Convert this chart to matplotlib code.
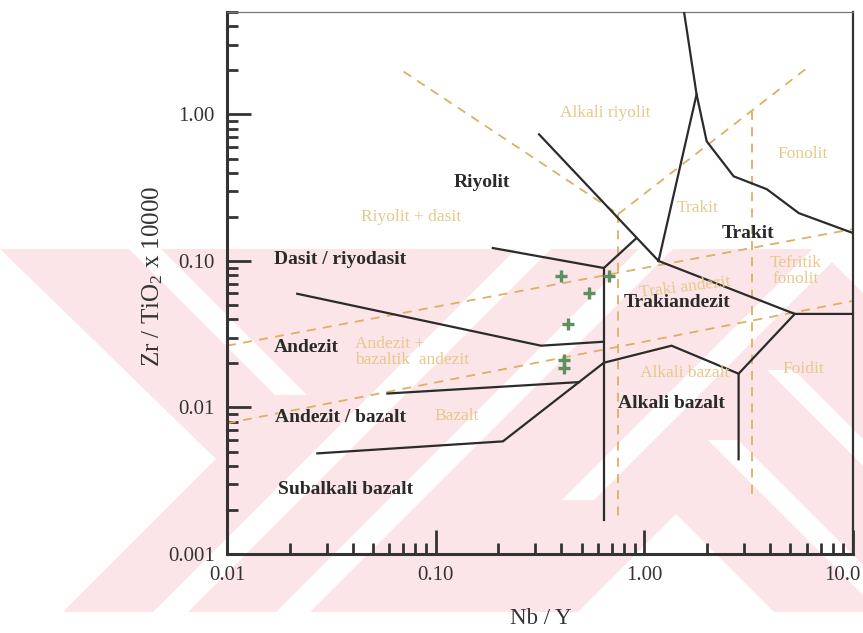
import matplotlib
matplotlib.use("Agg")
import matplotlib.pyplot as plt
from matplotlib.patches import Polygon, Rectangle
from matplotlib.ticker import LogLocator, NullFormatter
from matplotlib.transforms import ScaledTranslation

plt.rcParams['font.family'] = ['Liberation Serif', 'DejaVu Serif']
plt.rcParams['mathtext.fontset'] = 'custom'
plt.rcParams['mathtext.rm'] = 'Liberation Serif'
plt.rcParams['mathtext.it'] = 'Liberation Serif:italic'

# ---- sample data (Nb/Y vs Zr/TiO2*10000) ----
nb_y = [0.40, 0.68, 0.545, 0.43, 0.41, 0.41]
zr_tio2 = [0.079, 0.079, 0.060, 0.037, 0.021, 0.0187]

# ---- Winchester & Floyd (1977) field boundaries ----
alk_rhy_x = [1.55, 1.78, 1.99, 2.68, 3.86, 5.50, 10.0]
alk_rhy_y = [5.0, 1.37, 0.655, 0.378, 0.309, 0.212, 0.155]
trachyte_x = [1.78, 1.17]
trachyte_y = [1.37, 0.100]
rhyolite_x = [0.313, 1.17]
rhyolite_y = [0.731, 0.100]
trachyand_top_x = [0.188, 0.64, 0.916]
trachyand_top_y = [0.1225, 0.0895, 0.143]
phonolite_x = [1.17, 5.26, 10.0]
phonolite_y = [0.100, 0.0435, 0.0435]
tephri_x = [5.26, 2.83, 2.83]
tephri_y = [0.0435, 0.0170, 0.00443]
alk_bas_x = [2.83, 1.35, 0.64, 0.210, 0.0271]
alk_bas_y = [0.0170, 0.0264, 0.0202, 0.00587, 0.00486]
and_bas_x = [0.0587, 0.487]
and_bas_y = [0.01245, 0.0149]
dac_and_x = [0.0217, 0.320, 0.64]
dac_and_y = [0.0597, 0.0264, 0.0281]
alk_div_x = [0.64, 0.64]
alk_div_y = [0.0895, 0.0017]

# ---- Pearce (1996) revised boundaries (dashed) ----
p_rhy_x = [0.0702, 0.75]
p_rhy_y = [1.96, 0.209]
p_alkrhy_x = [0.75, 6.14]
p_alkrhy_y = [0.209, 2.12]
p_v1_x = [0.75, 0.75]
p_v1_y = [0.209, 0.00176]
p_v2_x = [3.27, 3.27]
p_v2_y = [1.06, 0.0024]
p_upper_x = [0.01, 10.0]
p_upper_y = [0.0264, 0.165]
p_lower_x = [0.01, 10.0]
p_lower_y = [0.0078, 0.0534]

# ---- field names ----
black_names = ["Riyolit", "Dasit / riyodasit", "Andezit", "Andezit / bazalt",
               "Subalkali bazalt", "Alkali bazalt", "Trakiandezit", "Trakit"]
black_x = [0.166, 0.0349, 0.0240, 0.0349, 0.0369, 1.35, 1.43, 3.13]
black_y = [0.344, 0.1016, 0.0256, 0.00855, 0.00277, 0.01064, 0.0518, 0.153]

tan_names = ["Alkali riyolit", "Fonolit", "Trakit", "Riyolit + dasit",
             "Tefritik\nfonolit", "Alkali bazalt", "Foidit", "Bazalt"]
tan_x = [0.650, 5.75, 1.80, 0.0759, 5.32, 1.556, 5.75, 0.126]
tan_y = [1.02, 0.535, 0.230, 0.199, 0.0855, 0.0173, 0.0182, 0.00869]

x_ticks = [0.01, 0.1, 1.0, 10.0]
x_tick_labels = ["0.01", "0.10", "1.00", "10.0"]
y_ticks = [0.001, 0.01, 0.1, 1.0]
y_tick_labels = ["0.001", "0.01", "0.10", "1.00"]

W, H = 863, 633
fig = plt.figure(figsize=(W / 100, H / 100), dpi=100)

# ---- pale background band with diagonal light stripes ----
PINK = '#fbe5e8'


def px(pts):
    return [(x / W, 1 - y / H) for x, y in pts]


def slash(c1, c2, ya, yb):
    return [(c1 - ya, ya), (c2 - ya, ya), (c2 - yb, yb), (c1 - yb, yb)]


def backslash(d1, d2, ya, yb):
    return [(d1 + ya, ya), (d2 + ya, ya), (d2 + yb, yb), (d1 + yb, yb)]


band_top, band_bot = 249, 612
fig.add_artist(Rectangle((0, 1 - band_bot / H), 1, (band_bot - band_top) / H,
                         transform=fig.transFigure, color=PINK, lw=0,
                         zorder=-3))
white_shapes = [
    [(0, 249), (216, 459), (63, 612), (0, 612)],
    backslash(-120, -88, 249, 395),
    slash(765, 800, 249, 612),
    slash(888, 922, 249, 612),
    slash(1062, 1094, 249, 500),
    [(676, 514), (578, 612), (774, 612)],
    backslash(268, 298, 440, 612),
    backslash(397, 424, 370, 470),
    [(819, 249), (863, 249), (863, 293)],
]
for shp in white_shapes:
    fig.add_artist(Polygon(px(shp), closed=True, transform=fig.transFigure,
                           color='white', lw=0, zorder=-2))

ax = fig.add_axes([227 / W, 1 - 554 / H, (853 - 227) / W, (554 - 12) / H])
ax.set_zorder(1)
ax.patch.set_alpha(0)
ax.set_xscale('log')
ax.set_yscale('log')
ax.set_xlim(0.01, 10)
ax.set_ylim(0.001, 5)

LINE = '#2b2b2b'
DASH = '#ddb062'
TAN = '#e6c88a'

for xs, ys in [(alk_rhy_x, alk_rhy_y), (trachyte_x, trachyte_y),
               (rhyolite_x, rhyolite_y), (trachyand_top_x, trachyand_top_y),
               (phonolite_x, phonolite_y), (tephri_x, tephri_y),
               (alk_bas_x, alk_bas_y), (and_bas_x, and_bas_y),
               (dac_and_x, dac_and_y), (alk_div_x, alk_div_y)]:
    ax.plot(xs, ys, color=LINE, lw=1.6, solid_joinstyle='miter', zorder=3)

for xs, ys in [(p_rhy_x, p_rhy_y), (p_alkrhy_x, p_alkrhy_y), (p_v1_x, p_v1_y),
               (p_v2_x, p_v2_y), (p_upper_x, p_upper_y), (p_lower_x, p_lower_y)]:
    ax.plot(xs, ys, color=DASH, lw=1.3, ls=(0, (5, 4)), zorder=2)

ax.plot(nb_y, zr_tio2, ls='none', marker='+', ms=9, mew=2.4,
        color='#5e8f5e', zorder=4)

for name, x, y in zip(black_names, black_x, black_y):
    ax.text(x, y, name, ha='center', va='center', fontsize=14,
            fontweight='bold', color='#2a2a2a', zorder=5)
for name, x, y in zip(tan_names, tan_x, tan_y):
    ax.text(x, y, name, ha='center', va='center', fontsize=12.5,
            color=TAN, linespacing=1.0, zorder=5)
ax.text(1.57, 0.0655, "Traki andezit", ha='center', va='center', fontsize=12.5,
        color=TAN, rotation=7, zorder=5)
ax.text(0.0412, 0.0240, "Andezit +\nbazaltik  andezit", ha='left', va='center',
        fontsize=12.5, color=TAN, linespacing=1.0, zorder=5)

# ---- axes frame and ticks ----
for side in ['left', 'bottom']:
    ax.spines[side].set_linewidth(2.2)
    ax.spines[side].set_color('#333333')
ax.spines['right'].set_linewidth(1.6)
ax.spines['right'].set_color('#333333')
ax.spines['top'].set_linewidth(0.9)
ax.spines['top'].set_color('#777777')

ax.set_xticks(x_ticks, labels=x_tick_labels)
ax.set_yticks(y_ticks, labels=y_tick_labels)
ax.xaxis.set_minor_locator(LogLocator(base=10, subs=range(2, 10), numticks=20))
ax.yaxis.set_minor_locator(LogLocator(base=10, subs=range(2, 10), numticks=20))
ax.xaxis.set_minor_formatter(NullFormatter())
ax.yaxis.set_minor_formatter(NullFormatter())
ax.tick_params(which='major', direction='in', length=17, width=2.0,
               color='#333333', labelsize=15, labelcolor='#333333', pad=9,
               top=False, right=False)
ax.tick_params(which='minor', direction='in', length=8, width=2.0,
               color='#333333', top=False, right=False)

# keep the last x label inside the canvas
last = ax.get_xticklabels()[-1]
last.set_transform(last.get_transform() +
                   ScaledTranslation(-0.11, 0, fig.dpi_scale_trans))

fig.text(541 / W, 1 - 618 / H, "Nb / Y", ha='center', va='center',
         fontsize=16.5, color='#333333')
fig.text(153 / W, 1 - 276 / H, r"Zr / TiO$_2$ x 10000", ha='center',
         va='center', rotation=90, fontsize=18, color='#333333')

fig.savefig("out.png", dpi=100)
